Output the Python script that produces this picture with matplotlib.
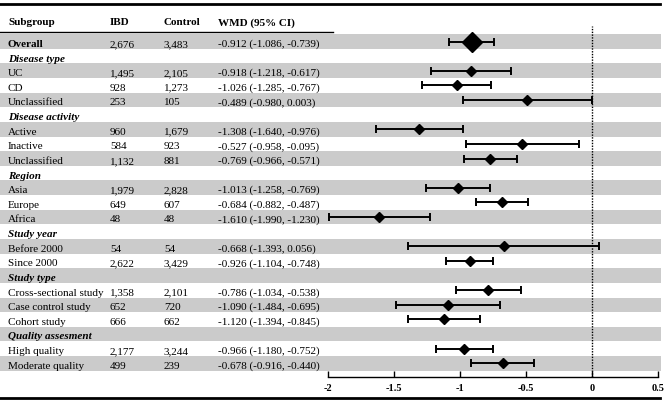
import numpy as np
import matplotlib
matplotlib.use("Agg")
import matplotlib.pyplot as plt
from matplotlib.lines import Line2D

# -----------------------------
# Data
# -----------------------------

labels = [
    "Overall", "Disease type", "UC", "CD", "Unclassified",
    "Disease activity", "Active", "Inactive", "Unclassified",
    "Region", "Asia", "Europe", "Africa",
    "Study year", "Before 2000", "Since 2000",
    "Study type", "Cross-sectional study", "Case control study", "Cohort study",
    "Quality assesment", "High quality", "Moderate quality",
]
is_header = [False, True, False, False, False,
             True, False, False, False,
             True, False, False, False,
             True, False, False,
             True, False, False, False,
             True, False, False]

ibd = ["2,676", "", "1,495", "928", "253",
       "", "960", "584", "1,132",
       "", "1,979", "649", "48",
       "", "54", "2,622",
       "", "1,358", "652", "666",
       "", "2,177", "499"]
control = ["3,483", "", "2,105", "1,273", "105",
           "", "1,679", "923", "881",
           "", "2,828", "607", "48",
           "", "54", "3,429",
           "", "2,101", "720", "662",
           "", "3,244", "239"]

wmd = [-0.912, np.nan, -0.918, -1.026, -0.489,
       np.nan, -1.308, -0.527, -0.769,
       np.nan, -1.013, -0.684, -1.610,
       np.nan, -0.668, -0.926,
       np.nan, -0.786, -1.090, -1.120,
       np.nan, -0.966, -0.678]
ci_low = [-1.086, np.nan, -1.218, -1.285, -0.980,
          np.nan, -1.640, -0.958, -0.966,
          np.nan, -1.258, -0.882, -1.990,
          np.nan, -1.393, -1.104,
          np.nan, -1.034, -1.484, -1.394,
          np.nan, -1.180, -0.916]
ci_high = [-0.739, np.nan, -0.617, -0.767, 0.003,
           np.nan, -0.976, -0.095, -0.571,
           np.nan, -0.769, -0.487, -1.230,
           np.nan, 0.056, -0.748,
           np.nan, -0.538, -0.695, -0.845,
           np.nan, -0.752, -0.440]

x_ticks = [-2, -1.5, -1, -0.5, 0, 0.5]
x_tick_labels = ["-2", "-1.5", "-1", "-0.5", "0", "0.5"]

# -----------------------------
# Layout (pixels)
# -----------------------------

W, H = 669, 406
row0 = 42.5
row_h = 14.63

plt.rcParams["font.family"] = ["Liberation Serif", "DejaVu Serif"]
fs = 8.0
base = 0.3  # baseline offset below row centre, in rows

fig = plt.figure(figsize=(W / 100, H / 100), dpi=100)

# background axes: whole figure, y in row units
ax_bg = fig.add_axes([0, 0, 1, 1])
ax_bg.set_xlim(0, W)
ax_bg.set_ylim((H - row0) / row_h, -row0 / row_h)
ax_bg.axis("off")

rows = np.arange(len(labels))
shade = rows[rows % 2 == 0]
ax_bg.barh(shade, width=661, left=0, height=1.0, color="#cbcbcb", zorder=0)

# lines
fig.add_artist(Line2D([0, 660 / W], [1 - 5 / H, 1 - 5 / H], color="black", lw=2))
fig.add_artist(Line2D([0, 333 / W], [1 - 33 / H, 1 - 33 / H], color="black", lw=1))
fig.add_artist(Line2D([0, 660 / W], [1 - 399 / H, 1 - 399 / H], color="black", lw=2))

# header
col_x = [8, 110, 164, 218]
headers = ["Subgroup", "IBD", "Control", "WMD (95% CI)"]
for x, h in zip(col_x, headers):
    ax_bg.text(x, (21 - row0) / row_h + base, h, fontsize=fs, fontweight="bold",
               va="baseline", ha="left")

for i in rows:
    y = i + base
    if is_header[i]:
        ax_bg.text(col_x[0], y, labels[i], fontsize=fs, fontweight="bold",
                   fontstyle="italic", va="baseline", ha="left")
        continue
    bold = "bold" if i == 0 else "normal"
    ax_bg.text(col_x[0], y, labels[i], fontsize=fs, fontweight=bold, va="baseline")
    ax_bg.text(col_x[1], y, ibd[i], fontsize=fs, va="baseline")
    ax_bg.text(col_x[2], y, control[i], fontsize=fs, va="baseline")
    txt = "{:.3f} ({:.3f}, {:.3f})".format(wmd[i], ci_low[i], ci_high[i])
    ax_bg.text(col_x[3], y, txt, fontsize=fs, va="baseline")

# -----------------------------
# Forest axes
# -----------------------------

ax_top, ax_bot = 27, 378
x_left, x_right = 328, 658
ax = fig.add_axes([x_left / W, 1 - ax_bot / H, (x_right - x_left) / W, (ax_bot - ax_top) / H])
ax.patch.set_visible(False)
ax.set_xlim(-2, 0.5)
ax.set_ylim((ax_bot - row0) / row_h, (ax_top - row0) / row_h)

wmd_a = np.array(wmd)
lo = np.array(ci_low)
hi = np.array(ci_high)
ok = ~np.isnan(wmd_a)

ax.errorbar(wmd_a[ok], rows[ok], xerr=[wmd_a[ok] - lo[ok], hi[ok] - wmd_a[ok]],
            fmt="none", ecolor="black", elinewidth=1.4, capsize=3, capthick=1.4, zorder=3)
small = ok & (rows != 0)
ax.plot(wmd_a[small], rows[small], "D", color="black", markersize=5.5, zorder=4)
ax.plot(wmd_a[0], rows[0], "D", color="black", markersize=10, zorder=4)

ax.axvline(0, color="black", lw=1, ls=(0, (1, 1)), zorder=2)

for s in ["top", "right", "left"]:
    ax.spines[s].set_visible(False)
ax.spines["bottom"].set_linewidth(1)
ax.set_yticks([])
ax.set_xticks(x_ticks)
ax.set_xticklabels(x_tick_labels, fontsize=7.5, fontweight="bold")
ax.tick_params(axis="x", direction="in", length=4, width=1, pad=4)

plt.savefig("out.png", dpi=100)
